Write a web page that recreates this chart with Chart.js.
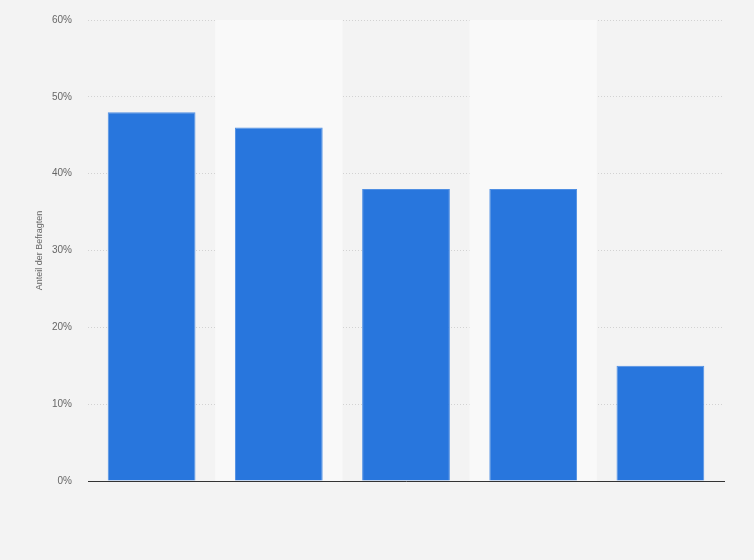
<!DOCTYPE html>
<html>
<head>
<meta charset="utf-8">
<script src="https://cdn.jsdelivr.net/npm/chart.js@4"></script>
<style>
html,body{margin:0;padding:0;background:#f3f3f3;}
#wrap{width:754px;height:560px;position:relative;}
</style>
</head>
<body>
<div id="wrap"><canvas id="c" width="754" height="560"></canvas></div>
<script>
const categories = ['1', '2', '3', '4', '5'];
const values = [48, 46, 38, 38, 15];
const yTicks = [0, 10, 20, 30, 40, 50, 60];
const yTitle = 'Anteil der Befragten';

const bandPlugin = {
  id: 'bands',
  beforeDatasetsDraw(chart) {
    const {ctx, chartArea, scales} = chart;
    const x = scales.x;
    ctx.save();
    ctx.fillStyle = '#f9f9f9';
    categories.forEach((c, i) => {
      if (i % 2 === 1) {
        const cx = x.getPixelForValue(i);
        const w = chartArea.width / categories.length;
        ctx.fillRect(cx - w / 2, chartArea.top, w, chartArea.bottom - chartArea.top);
      }
    });
    ctx.restore();
  }
};

new Chart(document.getElementById('c'), {
  type: 'bar',
  data: {
    labels: categories,
    datasets: [{
      data: values,
      backgroundColor: '#2876dd',
      borderColor: '#4f8fe3',
      borderWidth: {top: 1, left: 1, right: 1, bottom: 0},
      borderSkipped: 'bottom',
      barPercentage: 0.69,
      categoryPercentage: 1
    }]
  },
  options: {
    responsive: false,
    animation: false,
    devicePixelRatio: 1,
    layout: {padding: {top: 20, right: 30, left: 0, bottom: 0}},
    plugins: {legend: {display: false}, tooltip: {enabled: false}},
    scales: {
      x: {
        grid: {display: false, drawTicks: false},
        border: {display: true, color: '#333333', width: 1},
        ticks: {display: false},
        afterFit(s) { s.height = 79; }
      },
      y: {
        min: 0, max: 60,
        afterBuildTicks(s) { s.ticks = yTicks.map(v => ({value: v})); },
        grid: {color: '#d2d2d2', drawTicks: false, lineWidth: 1},
        border: {display: false, dash: [1, 2]},
        ticks: {
          padding: 16,
          color: '#666666',
          font: {family: 'Arial, Liberation Sans, sans-serif', size: 10},
          callback: v => v + '%'
        },
        title: {
          display: true,
          text: yTitle,
          color: '#666666',
          font: {family: 'Arial, Liberation Sans, sans-serif', size: 9},
          padding: {top: 34, bottom: 0}
        },
        afterFit(s) { s.width = 88; s.paddingTop = 0; s.paddingBottom = 0; }
      }
    }
  },
  plugins: [bandPlugin]
});
</script>
</body>
</html>
